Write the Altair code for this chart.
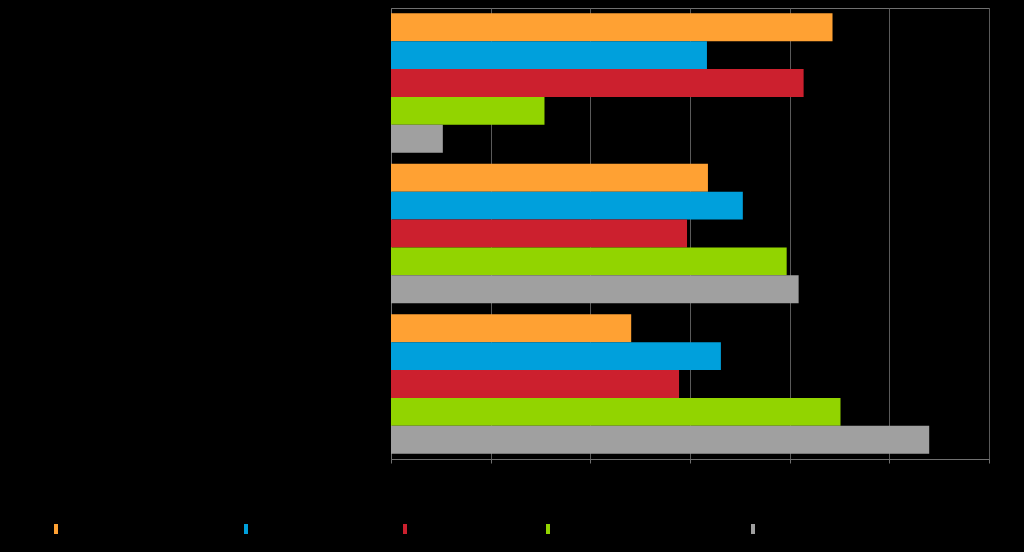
import altair as alt
import pandas as pd

groups = ["Category A", "Category B", "Category C"]
series = [
    "Very satisfied with the services",
    "Satisfied with the service",
    "Neutral about service.",
    "Dissatisfied with the services now",
    "Very dissatisfied",
]
colors = ["#FFA133", "#00A0DC", "#CC202E", "#92D400", "#A0A0A0"]

values_a = [44.3, 31.7, 41.4, 15.4, 5.2]
values_b = [31.8, 35.3, 29.7, 39.7, 40.9]
values_c = [24.1, 33.1, 28.9, 45.1, 54.0]

rows = []
for g, vals in zip(groups, [values_a, values_b, values_c]):
    for s, v in zip(series, vals):
        rows.append({"group": g, "series": s, "value": v})
df = pd.DataFrame(rows)

chart = (
    alt.Chart(df)
    .mark_bar(cornerRadius=0)
    .encode(
        y=alt.Y(
            "group:N",
            sort=groups,
            scale=alt.Scale(paddingInner=0.073, paddingOuter=0.035),
            axis=alt.Axis(
                title=None,
                labelColor="black",
                labelFontSize=12,
                ticks=False,
                domainColor="#707070",
                minExtent=383,
                maxExtent=383,
            ),
        ),
        yOffset=alt.YOffset("series:N", sort=series, scale=alt.Scale(paddingInner=0, paddingOuter=0)),
        x=alt.X(
            "value:Q",
            scale=alt.Scale(domain=[0, 60], nice=False),
            axis=alt.Axis(
                title="Percent",
                titleColor="black",
                values=[0, 10, 20, 30, 40, 50, 60],
                labelColor="black",
                gridColor="#5a5a5a",
                gridWidth=1,
                domainColor="#707070",
                tickColor="#707070",
                tickSize=4,
            ),
        ),
        color=alt.Color(
            "series:N",
            sort=series,
            scale=alt.Scale(domain=series, range=colors),
            legend=alt.Legend(
                title=None,
                orient="none",
                direction="horizontal",
                legendX=-341,
                legendY=515,
                symbolType="M-0.4,-1L0.4,-1L0.4,1L-0.4,1Z",
                symbolSize=100,
                symbolStrokeWidth=0,
                labelColor="black",
                labelFontSize=12,
                labelFont="Liberation Sans",
                labelLimit=400,
                columnPadding=10,
            ),
        ),
    )
    .properties(width=598, height=451)
    .configure(background="black", padding=0)
    .configure_view(stroke="#707070", strokeWidth=1)
)

chart.save(
    "out.html",
    embed_options={"renderer": "svg", "actions": False, "defaultStyle": "body{background:#000;}"},
)
